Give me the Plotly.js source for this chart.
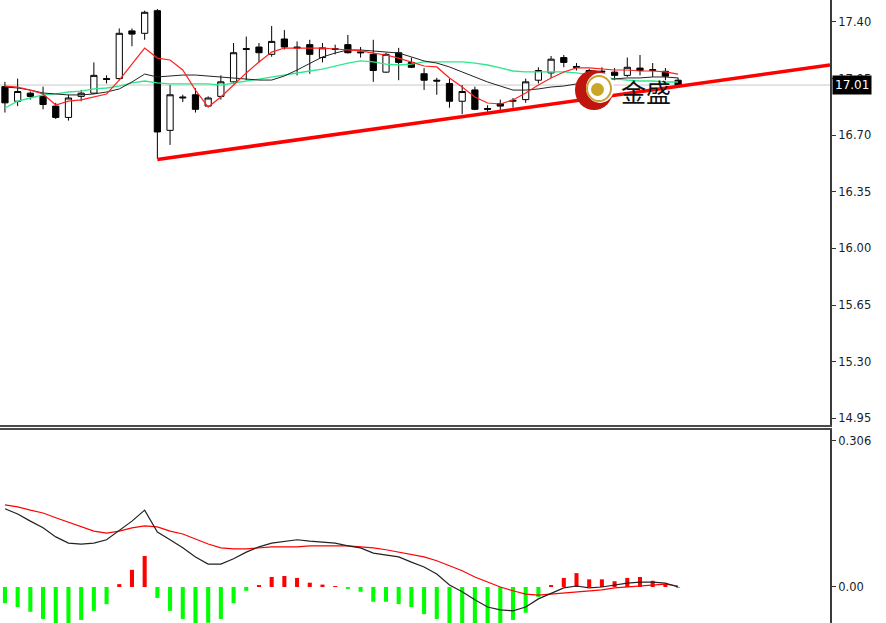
<!DOCTYPE html>
<html>
<head>
<meta charset="utf-8">
<script src="https://cdn.plot.ly/plotly-3.0.1.min.js"></script>
<style>html,body{margin:0;padding:0;background:#fff;}#chart{width:886px;height:623px;}</style>
</head>
<body>
<div id="chart"></div>
<script>
// ---- Price candles (index 0..53) ----
const barIndex = Array.from({length: 54}, (_, i) => i);
const openP  = [17.00,16.91,16.96,16.94,16.88,16.81,16.94,16.96,17.05,17.05,17.345,17.33,17.47,16.73,16.93,16.95,16.88,16.94,17.03,17.23,17.245,17.20,17.295,17.245,17.26,17.18,17.235,17.26,17.215,17.20,17.09,17.21,17.15,17.08,17.04,17.02,16.91,16.98,16.865,16.895,16.91,16.92,17.04,17.085,17.18,17.125,17.10,17.09,17.09,17.07,17.115,17.10,17.095,17.04];
const highP  = [17.03,17.05,16.97,17.00,16.90,16.95,16.98,17.15,17.07,17.36,17.36,17.47,17.48,17.01,16.95,16.99,16.94,17.07,17.27,17.31,17.27,17.375,17.35,17.28,17.29,17.27,17.26,17.32,17.245,17.29,17.21,17.24,17.18,17.115,17.055,17.05,17.01,17.00,16.885,16.92,16.93,17.05,17.12,17.19,17.196,17.146,17.11,17.12,17.115,17.18,17.196,17.146,17.115,17.055];
const lowP   = [16.84,16.88,16.92,16.86,16.80,16.79,16.91,16.955,17.02,17.04,17.25,17.29,16.553,16.64,16.905,16.84,16.875,16.92,17.02,17.04,17.15,17.185,17.23,17.07,17.08,17.15,17.20,17.205,17.18,17.03,17.085,17.04,17.115,16.98,16.95,16.87,16.83,16.855,16.845,16.855,16.87,16.90,17.02,17.054,17.12,17.10,17.07,17.07,17.04,17.06,17.07,17.06,17.04,17.00];
const closeP = [16.90,16.97,16.94,16.89,16.81,16.93,16.96,17.07,17.045,17.33,17.325,17.46,16.72,16.95,16.935,16.86,16.93,17.03,17.21,17.235,17.21,17.28,17.245,17.24,17.20,17.24,17.23,17.21,17.21,17.10,17.20,17.15,17.12,17.04,17.035,16.91,16.97,16.86,16.86,16.88,16.915,17.03,17.10,17.17,17.15,17.12,17.09,17.095,17.07,17.12,17.10,17.105,17.065,17.01];

// ---- Moving averages ----
const maRed   = [17.004,16.998,16.979,16.955,16.887,16.911,16.918,16.936,16.955,17.041,17.140,17.239,17.177,17.165,17.103,16.979,16.874,16.936,17.010,17.085,17.153,17.214,17.239,17.239,17.239,17.239,17.233,17.227,17.221,17.208,17.196,17.177,17.153,17.128,17.122,17.054,16.998,16.936,16.899,16.893,16.918,16.961,17.010,17.054,17.091,17.116,17.116,17.109,17.103,17.103,17.097,17.097,17.091,17.078];
const maBlack = [16.998,16.992,16.979,16.961,16.955,16.949,16.949,16.955,16.967,16.986,17.029,17.078,17.060,17.066,17.072,17.072,17.066,17.060,17.054,17.048,17.041,17.041,17.066,17.103,17.146,17.184,17.208,17.227,17.227,17.221,17.214,17.208,17.184,17.159,17.146,17.122,17.091,17.060,17.029,17.004,16.979,16.979,16.986,16.998,17.004,17.017,17.029,17.041,17.048,17.054,17.054,17.060,17.060,17.054];
const maGreen = [16.868,16.911,16.930,16.949,16.955,16.967,16.973,16.986,16.992,17.004,17.023,17.035,17.023,17.017,17.017,17.017,17.017,17.010,17.023,17.035,17.048,17.060,17.072,17.085,17.097,17.109,17.128,17.146,17.159,17.153,17.140,17.134,17.140,17.153,17.153,17.153,17.153,17.146,17.134,17.116,17.097,17.091,17.091,17.091,17.091,17.085,17.072,17.060,17.048,17.041,17.035,17.035,17.029,17.029];

// ---- Trend line ----
const trendX = [12, 64.96];
const trendY = [16.55, 17.134];

// ---- MACD panel ----
const macdHist = [-0.034,-0.042,-0.052,-0.067,-0.08,-0.08,-0.069,-0.050,-0.036,0.006,0.036,0.065,-0.023,-0.050,-0.067,-0.078,-0.075,-0.067,-0.034,-0.008,0.004,0.021,0.023,0.019,0.009,0.005,0.002,-0.004,-0.010,-0.031,-0.031,-0.036,-0.042,-0.057,-0.067,-0.08,-0.08,-0.08,-0.08,-0.08,-0.069,-0.054,-0.021,0.004,0.019,0.029,0.016,0.016,0.012,0.019,0.021,0.013,0.006,-0.002];
const macdLine = [0.164,0.153,0.138,0.124,0.105,0.092,0.090,0.092,0.099,0.119,0.138,0.161,0.115,0.099,0.082,0.063,0.048,0.048,0.059,0.073,0.084,0.092,0.096,0.099,0.096,0.094,0.092,0.086,0.082,0.071,0.067,0.063,0.052,0.042,0.027,0.004,-0.010,-0.027,-0.042,-0.048,-0.050,-0.042,-0.025,-0.013,-0.002,0.002,-0.002,0.000,0.004,0.008,0.010,0.010,0.008,0.000];
const signalLine = [0.172,0.168,0.161,0.155,0.145,0.136,0.126,0.117,0.113,0.117,0.124,0.128,0.126,0.117,0.111,0.101,0.090,0.082,0.080,0.080,0.082,0.084,0.084,0.084,0.086,0.086,0.086,0.086,0.084,0.082,0.078,0.073,0.069,0.063,0.055,0.044,0.034,0.021,0.010,0.000,-0.008,-0.015,-0.017,-0.015,-0.013,-0.010,-0.008,-0.006,-0.002,0.000,0.002,0.004,0.006,0.002];

// ---- Axis ticks ----
const priceTicks = [14.95,15.30,15.65,16.00,16.35,16.70,17.05,17.40];
const priceTickText = ["14.95","15.30","15.65","16.00","16.35","16.70","17.05","17.40"];
const macdTicks = [0, 0.306];
const macdTickText = ["0.00","0.306"];
const lastPrice = 17.01;
const lastPriceText = "17.01";

const histColors = macdHist.map(v => v >= 0 ? '#ff0000' : '#00ff00');

const traces = [
  {type:'scatter', mode:'lines', x:trendX, y:trendY, xaxis:'x', yaxis:'y',
   line:{color:'#ff0000', width:3.5}, hoverinfo:'skip'},
  {type:'scatter', mode:'lines', x:barIndex, y:maGreen, xaxis:'x', yaxis:'y',
   line:{color:'#2ee88c', width:1.3}, hoverinfo:'skip'},
  {type:'scatter', mode:'lines', x:barIndex, y:maBlack, xaxis:'x', yaxis:'y',
   line:{color:'#222222', width:1}, hoverinfo:'skip'},
  {type:'scatter', mode:'lines', x:barIndex, y:maRed, xaxis:'x', yaxis:'y',
   line:{color:'#ff2020', width:1.2}, hoverinfo:'skip'},
  {type:'candlestick', x:barIndex, open:openP, high:highP, low:lowP, close:closeP,
   xaxis:'x', yaxis:'y', whiskerwidth:0,
   increasing:{line:{color:'#000000', width:1}, fillcolor:'#ffffff'},
   decreasing:{line:{color:'#000000', width:1}, fillcolor:'#000000'},
   hoverinfo:'skip'},
  {type:'bar', x:barIndex, y:macdHist, xaxis:'x2', yaxis:'y2', width:0.32,
   marker:{color:histColors, line:{width:0}}, hoverinfo:'skip'},
  {type:'scatter', mode:'lines', x:barIndex, y:signalLine, xaxis:'x2', yaxis:'y2',
   line:{color:'#ff0000', width:1.2}, hoverinfo:'skip'},
  {type:'scatter', mode:'lines', x:barIndex, y:macdLine, xaxis:'x2', yaxis:'y2',
   line:{color:'#222222', width:1.2}, hoverinfo:'skip'}
];

const tickFont = {family:'DejaVu Sans, Verdana, sans-serif', size:11.5, color:'#1c1c28'};
const xr = [-0.39, 64.96];
const pw = 830, ph = 623;

const layout = {
  width:886, height:623,
  margin:{l:0, r:56, t:0, b:0, pad:0},
  paper_bgcolor:'#ffffff', plot_bgcolor:'#ffffff',
  showlegend:false,
  xaxis:{domain:[0,1], range:xr, anchor:'y', showgrid:false, zeroline:false,
         showticklabels:false, ticks:'', showline:true, linecolor:'#4a4a4a', linewidth:2,
         rangeslider:{visible:false}, fixedrange:true},
  yaxis:{domain:[1-425/ph, 1], range:[14.908, 17.536], side:'right', anchor:'x',
         tickvals:priceTicks, ticktext:priceTickText, ticks:'outside', ticklen:4, tickcolor:'#333',
         tickfont:tickFont, showgrid:false, zeroline:false,
         showline:true, linecolor:'#3a3a3a', linewidth:2, fixedrange:true},
  xaxis2:{domain:[0,1], range:xr, anchor:'y2', side:'top', showgrid:false, zeroline:false,
          showticklabels:false, ticks:'', showline:true, linecolor:'#4a4a4a', linewidth:2, fixedrange:true},
  yaxis2:{domain:[0, 1-430/ph], range:[-0.0755, 0.329], side:'right', anchor:'x2',
          tickvals:macdTicks, ticktext:macdTickText, ticks:'outside', ticklen:4, tickcolor:'#333',
          tickfont:tickFont, showgrid:false, zeroline:false,
          showline:true, linecolor:'#3a3a3a', linewidth:2, fixedrange:true},
  shapes:[
    {type:'line', layer:'below', xref:'paper', x0:0, x1:1, yref:'y', y0:lastPrice, y1:lastPrice,
     line:{color:'#c8c8c8', width:1}},
    // watermark logo
    {type:'circle', xref:'paper', yref:'paper', x0:575/pw, x1:613/pw, y0:1-110/ph, y1:1-70/ph,
     fillcolor:'#c0140f', line:{width:0}},
    {type:'circle', xref:'paper', yref:'paper', x0:586/pw, x1:614/pw, y0:1-103/ph, y1:1-73/ph,
     fillcolor:'#ffffff', line:{width:0}},
    {type:'circle', xref:'paper', yref:'paper', x0:587/pw, x1:611/pw, y0:1-101/ph, y1:1-76/ph,
     fillcolor:'rgba(0,0,0,0)', line:{color:'#c9a233', width:2}},
    {type:'circle', xref:'paper', yref:'paper', x0:591/pw, x1:604/pw, y0:1-96/ph, y1:1-83/ph,
     fillcolor:'#c9a52a', line:{width:0}}
  ],
  annotations:[
    {xref:'paper', x:1, xanchor:'left', xshift:2, yref:'y', y:lastPrice, yanchor:'middle',
     text:lastPriceText, showarrow:false, bgcolor:'#000000', borderpad:2,
     font:{family:'DejaVu Sans, Verdana, sans-serif', size:12, color:'#ffffff'}},
    {xref:'paper', x:619/pw, xanchor:'left', yref:'paper', y:1-91/ph, yanchor:'middle',
     text:'金盛', showarrow:false,
     font:{family:'Noto Sans CJK SC, sans-serif', size:25, color:'#111111'}}
  ]
};

Plotly.newPlot('chart', traces, layout, {staticPlot:true, displayModeBar:false});
</script>
</body>
</html>
